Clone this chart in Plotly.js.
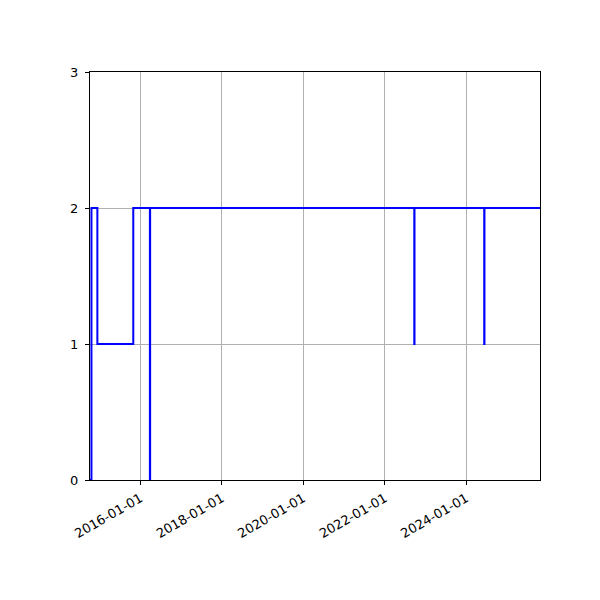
<!DOCTYPE html>
<html>
<head>
<meta charset="utf-8">
<script src="https://cdn.plot.ly/plotly-3.0.1.min.js"></script>
<style>
  html, body { margin: 0; padding: 0; background: #fff; }
  #chart { width: 600px; height: 600px; }
</style>
</head>
<body>
<div id="chart"></div>
<script>
// Step series (steps-post)
const dates = [
  "2014-10-07", "2014-10-20", "2014-12-12", "2015-10-30",
  "2016-03-27", "2016-03-29", "2022-09-22", "2022-09-24",
  "2024-06-10", "2024-06-12", "2025-10-23",
];
const values = [0, 2, 1, 2, 0, 2, 1, 2, 1, 2, 2];

const xTicks = ["2016-01-01", "2018-01-01", "2020-01-01", "2022-01-01", "2024-01-01"];
const yTicks = [0, 1, 2, 3];

const AXIS_BASE = {
  showline: true,
  linecolor: "#000",
  linewidth: 1,
  mirror: true,
  ticks: "outside",
  ticklen: 4,
  tickcolor: "#000",
  showgrid: true,
  gridcolor: "#b0b0b0",
  gridwidth: 1,
  zeroline: false,
  tickfont: { family: "DejaVu Sans", size: 13, color: "#000" },
};

Plotly.newPlot(
  "chart",
  [
    {
      type: "scatter", mode: "lines",
      x: dates, y: values,
      line: { color: "#0000ff", width: 2, shape: "hv" },
      hoverinfo: "skip",
    },
  ],
  {
    width: 600, height: 600,
    paper_bgcolor: "#fff",
    plot_bgcolor: "#fff",
    showlegend: false,
    margin: { l: 90, r: 60, t: 72, b: 120 },
    xaxis: {
      ...AXIS_BASE,
      type: "date",
      range: ["2014-10-07", "2025-10-23"],
      tickvals: xTicks,
      ticktext: xTicks,
      tickangle: -30,
      ticklabelstandoff: 1,
    },
    yaxis: {
      ...AXIS_BASE,
      range: [0, 3],
      tickvals: yTicks,
      ticklabelstandoff: 4,
    },
  },
  { displayModeBar: false, staticPlot: true }
);
</script>
</body>
</html>
